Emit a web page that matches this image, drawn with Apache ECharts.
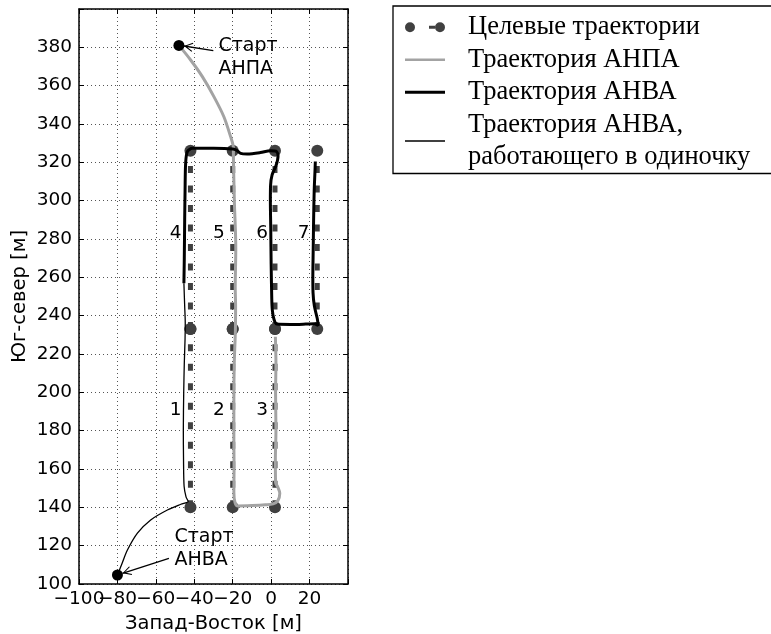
<!DOCTYPE html>
<html><head><meta charset="utf-8">
<script src="https://cdn.jsdelivr.net/npm/echarts@6/dist/echarts.min.js"></script>
<style>html,body{margin:0;padding:0;background:#fff}#c{width:771px;height:634px}</style>
</head><body><div id="c"></div>
<script>
// ---- data ----
const xRange = [-100, 40];
const yRange = [100, 400];
const tickStep = 20;
// x tick labels split into two interleaved rows so none gets auto-hidden
const xLabelsA = [-100, -60, -20, 20];
const xLabelsB = [-80, -40, 0];
const yLabels = [100, 120, 140, 160, 180, 200, 220, 240, 260, 280, 300, 320, 340, 360, 380];

const targetColumnsX = [-42, -20, 2, 24];
const targetRowsY = [140, 233, 326];
// [column index, from row index, to row index]
const targetSegments = [[0,0,1],[1,0,1],[2,0,1],[0,1,2],[1,1,2],[2,1,2],[3,1,2]];

const segmentNumbers = ['1','2','3','4','5','6','7'];
const segmentNumberX = [-49.7, -27.2, -4.7, -49.7, -27.2, -4.7, 16.9];
const segmentNumberY = [190.8, 190.8, 190.8, 283, 283, 283, 283];

const anpaX = [-48, -41.9, -35.8, -29.8, -24.6, -21.1, -19.7, -19.6, -19.4, -19.1, -18.6, -18.4, -18.5, -18.7, -18.5, -18.6, -19.2, -19.4, -19.4, -19.3, -19.4, -18.8, -17.3, -10, -3, 1, 3.5, 4.5, 3.5, 2.3, 2.2, 2.5, 2.3, 2.5, 2.2];
const anpaY = [381, 373.4, 364.7, 354.3, 343.8, 333.4, 328, 320, 310.8, 298, 284.7, 275, 267.3, 255, 245, 232.5, 215, 195, 175, 160, 148, 142.5, 140.7, 140.9, 141.3, 141.8, 143.5, 147.3, 150.5, 153, 165, 180, 200, 215, 229];

const anvaX = [-45.4, -45.2, -45, -44.8, -44.5, -43.6, -41, -30, -20, -18, -15.9, -12.5, -5.6, -0.4, 2.5, 3.6, 2.6, 0.5, -0.3, -0.4, -0.2, 0, 0.3, 0.6, 1.5, 3, 10, 18, 22.5, 24.5, 24, 22.5, 21.8, 21.7, 21.9, 22.1, 22.4, 22.8, 23];
const anvaY = [256.9, 270, 290, 305, 319.5, 325.6, 327.3, 327.3, 327, 326.3, 324.7, 324.4, 325.1, 326.1, 325.8, 323.5, 318.5, 313.5, 308, 300, 285, 267, 250, 243, 238, 235.6, 235.4, 235.6, 235.8, 234.8, 238.5, 245, 252, 260, 275, 290, 305, 315, 320.4];

const anvaSoloX = [-80, -77.5, -74.8, -69.6, -62.7, -54, -47, -43.2, -44.3, -45.3, -45.6, -45.7, -45.5, -45.2, -44.8, -44.7, -45, -45.4];
const anvaSoloY = [104.7, 111, 117.7, 126.5, 133.4, 138.6, 141.6, 143, 145.5, 151, 165, 180, 200, 215, 228, 236, 245, 256.9];

const startX = [-48, -80];
const startY = [381, 104.7];
const startTexts = ['Старт\nАНПА', 'Старт\nАНВА'];
const startTextX = [-27.7, -50.6];
const startTextY = [374.7, 118.6];
const arrowTailX = [-30.1, -53.2];
const arrowTailY = [378.3, 113.4];
const arrowHeadX = [-45.4, -77.4];
const arrowHeadY = [380.7, 105.6];

const NAME_TARGET = 'Целевые траектории';
const NAME_ANPA = 'Траектория АНПА';
const NAME_ANVA = 'Траектория АНВА';
const NAME_ANVA_SOLO = 'Траектория АНВА,\nработающего в одиночку';
const xAxisName = 'Запад-Восток [м]';
const yAxisName = 'Юг-север [м]';

// ---- chart ----
const SANS = 'DejaVu Sans';
const TICK_FS = 18.5;
const NAME_FS = 19.5;
const zip = (xs, ys) => xs.map((x, i) => [x, ys[i]]);
const fmtNum = v => (v < 0 ? '\u2212' + Math.abs(v) : String(v));

const ICON_TARGET = 'path://M0,5a5,5 0 1,0 10,0a5,5 0 1,0 -10,0Z M24,3.5H30V6.5H24Z M30,5a5,5 0 1,0 10,0a5,5 0 1,0 -10,0Z';
const ICON_GRAY = 'path://M0,0H40V2.5H0Z';
const ICON_THICK = 'path://M0,0H40V3H0Z';
const ICON_THIN = 'path://M0,0H40V1.3H0Z';
const ARROW_HEAD = 'path://M5,0L5,0Z M5,10L10,19L9,19.7L5,12.3L1,19.7L0,19Z';

const gridLine = { show: true, lineStyle: { color: '#555', width: 1, type: [1, 3] } };
const baseAxis = {
  type: 'value', interval: tickStep,
  axisLine: { show: true, onZero: false, lineStyle: { color: '#000', width: 1.5 } },
  axisTick: { show: true, inside: true, length: 5, lineStyle: { color: '#000', width: 1 } },
  axisLabel: { show: false },
  splitLine: { show: false }
};
const tickLabel = (list, margin) => ({
  show: true, margin: margin, fontFamily: SANS, fontSize: TICK_FS, color: '#000',
  showMinLabel: true, showMaxLabel: true, hideOverlap: false,
  formatter: v => (list.indexOf(v) >= 0 ? fmtNum(v) : '')
});

const series = [];
targetSegments.forEach(([c, r0, r1]) => {
  series.push({
    type: 'line', name: NAME_TARGET, z: 2,
    data: [[targetColumnsX[c], targetRowsY[r0]], [targetColumnsX[c], targetRowsY[r1]]],
    symbol: 'circle', symbolSize: 12, showSymbol: true,
    itemStyle: { color: '#404040', borderWidth: 0, opacity: 1 },
    lineStyle: { color: '#404040', width: 5, type: [7, 12.5], cap: 'butt' }
  });
});
series.push({
  type: 'line', name: NAME_ANPA, z: 3, data: zip(anpaX, anpaY), smooth: 0.3,
  symbol: 'none', itemStyle: { color: '#a3a3a3' }, lineStyle: { color: '#a3a3a3', width: 3 }
});
series.push({
  type: 'line', name: NAME_ANVA, z: 4, data: zip(anvaX, anvaY), smooth: 0.3,
  symbol: 'none', itemStyle: { color: '#000' }, lineStyle: { color: '#000', width: 3 }
});
series.push({
  type: 'line', name: NAME_ANVA_SOLO, z: 4, data: zip(anvaSoloX, anvaSoloY), smooth: 0.3,
  symbol: 'none', itemStyle: { color: '#000' }, lineStyle: { color: '#000', width: 1.3 }
});
series.push({
  type: 'scatter', name: 'start', z: 5, data: zip(startX, startY),
  symbol: 'circle', symbolSize: 11, itemStyle: { color: '#000', opacity: 1 }, silent: true,
  markLine: {
    silent: true, animation: false,
    symbol: ['none', ARROW_HEAD], symbolSize: [9, 18],
    lineStyle: { color: '#000', width: 1.3, type: 'solid', opacity: 1 },
    itemStyle: { color: '#000', opacity: 1 },
    label: { show: false },
    emphasis: { disabled: true },
    data: arrowTailX.map((x, i) => [{ coord: [x, arrowTailY[i]] }, { coord: [arrowHeadX[i], arrowHeadY[i]] }])
  }
});
series.push({
  type: 'scatter', name: 'startText', z: 6,
  data: startTextX.map((x, i) => [x, startTextY[i], startTexts[i]]),
  symbolSize: 1, itemStyle: { color: 'rgba(0,0,0,0)', opacity: 1 }, silent: true,
  label: { show: true, position: 'right', distance: 0, align: 'left', formatter: p => p.value[2],
    fontFamily: SANS, fontSize: 19, lineHeight: 22.5, color: '#000', opacity: 1 }
});
series.push({
  type: 'scatter', name: 'numbers', z: 6,
  data: segmentNumberX.map((x, i) => [x, segmentNumberY[i], segmentNumbers[i]]),
  symbolSize: 1, itemStyle: { color: 'rgba(0,0,0,0)', opacity: 1 }, silent: true,
  label: { show: true, position: 'inside', formatter: p => p.value[2],
    fontFamily: SANS, fontSize: 18.5, color: '#000', opacity: 1 }
});

const option = {
  animation: false,
  backgroundColor: '#fff',
  grid: { left: 79, top: 9, width: 269, height: 575, containLabel: false, outerBoundsMode: 'none' },
  legend: {
    orient: 'vertical', left: 393, right: -60, top: 6, padding: [5, 50, 0, 12], itemGap: 0,
    itemWidth: 40, itemHeight: 10, selectedMode: false,
    borderColor: '#000', borderWidth: 1.3, borderRadius: 0, backgroundColor: '#fff',
    textStyle: { fontFamily: 'Liberation Serif', fontSize: 26.5, color: '#000', lineHeight: 32.5, padding: [0, 0, 0, 18] },
    itemStyle: { borderWidth: 0 },
    data: [
      { name: NAME_TARGET, icon: ICON_TARGET },
      { name: NAME_ANPA, icon: ICON_GRAY },
      { name: NAME_ANVA, icon: ICON_THICK },
      { name: NAME_ANVA_SOLO, icon: ICON_THIN }
    ]
  },
  xAxis: [
    Object.assign({}, baseAxis, {
      position: 'bottom', min: xRange[0], max: xRange[1],
      name: xAxisName, nameLocation: 'middle', nameGap: 28,
      nameTextStyle: { fontFamily: SANS, fontSize: NAME_FS, color: '#000' },
      axisLabel: tickLabel(xLabelsA, 6),
      splitLine: gridLine
    }),
    Object.assign({}, baseAxis, {
      position: 'top', min: xRange[0], max: xRange[1]
    }),
    Object.assign({}, baseAxis, {
      position: 'bottom', min: xRange[0], max: xRange[1],
      axisLine: { show: false, onZero: false }, axisTick: { show: false },
      axisLabel: tickLabel(xLabelsB, 6)
    })
  ],
  yAxis: [
    Object.assign({}, baseAxis, {
      position: 'left', min: yRange[0], max: yRange[1],
      name: yAxisName, nameLocation: 'middle', nameGap: 49,
      nameTextStyle: { fontFamily: SANS, fontSize: NAME_FS, color: '#000' },
      axisLabel: tickLabel(yLabels, 7),
      splitLine: gridLine
    }),
    Object.assign({}, baseAxis, {
      position: 'right', min: yRange[0], max: yRange[1]
    })
  ],
  series: series
};

const chart = echarts.init(document.getElementById('c'), null, { renderer: 'canvas' });
chart.setOption(option);
</script></body></html>
